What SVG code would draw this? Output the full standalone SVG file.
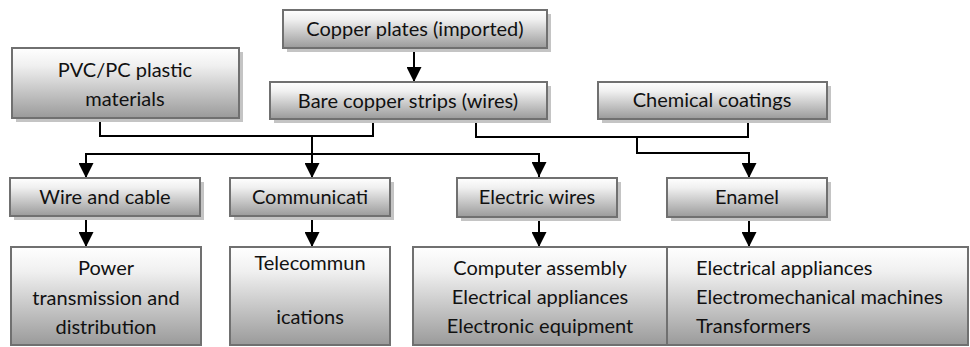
<svg xmlns="http://www.w3.org/2000/svg" width="970" height="347" viewBox="0 0 970 347">
<defs>
<linearGradient id="g" x1="0" y1="0" x2="0" y2="1">
<stop offset="0" stop-color="#ffffff"/>
<stop offset="0.25" stop-color="#f0f0f0"/>
<stop offset="1" stop-color="#9a9a9a"/>
</linearGradient>
<marker id="ah" viewBox="0 0 15 15" refX="15" refY="7.5" markerWidth="15" markerHeight="15" markerUnits="userSpaceOnUse" orient="auto">
<path d="M0,0 L15,7.5 L0,15 Z" fill="#000"/>
</marker>
</defs>
<style>
.box{fill:url(#g);stroke:#707070;stroke-width:2}
.sh{fill:#c4c4c4}
text{font-family:Lato,"Liberation Sans",sans-serif;font-size:20px;fill:#111}
.c{text-anchor:middle}
.ln{fill:none;stroke:#000;stroke-width:2}
.ar{fill:none;stroke:#000;stroke-width:2;marker-end:url(#ah)}
</style>
<rect width="970" height="347" fill="#fff"/>

<g id="connectors">
<polyline class="ln" points="100,118 100,136 373,136 373,119"/>
<line class="ar" x1="312" y1="136" x2="312" y2="178"/>
<polyline class="ar" points="86,178 86,154 539,154 539,177"/>
<path class="ar" d="M86,154 L86,178"/>
<line class="ar" x1="414" y1="48" x2="414" y2="82"/>
<polyline class="ln" points="476,119 476,137 748,137 748,119"/>
<polyline class="ar" points="637,137 637,153 749,153 749,178"/>
<line class="ar" x1="86" y1="216" x2="86" y2="247"/>
<line class="ar" x1="312" y1="216" x2="312" y2="247"/>
<line class="ar" x1="539" y1="217" x2="539" y2="247"/>
<line class="ar" x1="749" y1="217" x2="749" y2="247"/>
</g>

<g id="n-copper-plates">
<rect class="sh" x="287" y="14" width="264" height="38"/>
<rect class="box" x="283" y="10" width="264" height="38"/>
<text class="c" x="415" y="36">Copper plates (imported)</text>
</g>
<g id="n-pvc">
<rect class="sh" x="16" y="52" width="227" height="70"/>
<rect class="box" x="12" y="48" width="227" height="70"/>
<text class="c" x="125" y="77">PVC/PC plastic</text>
<text class="c" x="125" y="106">materials</text>
</g>
<g id="n-bare-copper">
<rect class="sh" x="274" y="86" width="277" height="37"/>
<rect class="box" x="270" y="82" width="277" height="37"/>
<text class="c" x="408" y="108">Bare copper strips (wires)</text>
</g>
<g id="n-chemical">
<rect class="sh" x="602" y="86" width="229" height="37"/>
<rect class="box" x="598" y="82" width="229" height="37"/>
<text class="c" x="712" y="107">Chemical coatings</text>
</g>
<g id="n-wire-cable">
<rect class="sh" x="14" y="182" width="190" height="38"/>
<rect class="box" x="10" y="178" width="190" height="38"/>
<text class="c" x="105" y="204">Wire and cable</text>
</g>
<g id="n-communicati">
<rect class="sh" x="234" y="182" width="160" height="38"/>
<rect class="box" x="230" y="178" width="160" height="38"/>
<text class="c" x="310" y="204">Communicati</text>
</g>
<g id="n-electric-wires">
<rect class="sh" x="461" y="182" width="160" height="39"/>
<rect class="box" x="457" y="178" width="160" height="39"/>
<text class="c" x="537" y="204">Electric wires</text>
</g>
<g id="n-enamel">
<rect class="sh" x="671" y="182" width="160" height="39"/>
<rect class="box" x="667" y="178" width="160" height="39"/>
<text class="c" x="747" y="204">Enamel</text>
</g>
<g id="n-power">
<rect class="box" x="11" y="247" width="190" height="98"/>
<text class="c" x="106" y="275">Power</text>
<text class="c" x="106" y="305">transmission and</text>
<text class="c" x="106" y="334">distribution</text>
</g>
<g id="n-telecom">
<rect class="box" x="230" y="247" width="160" height="98"/>
<text class="c" x="310" y="270">Telecommun</text>
<text class="c" x="310" y="324">ications</text>
</g>
<g id="n-computer">
<rect class="box" x="413" y="247" width="254" height="98"/>
<text class="c" x="540" y="275">Computer assembly</text>
<text class="c" x="540" y="304">Electrical appliances</text>
<text class="c" x="540" y="333">Electronic equipment</text>
</g>
<g id="n-enamel-uses">
<rect class="box" x="667" y="247" width="301" height="98"/>
<text x="696" y="275">Electrical appliances</text>
<text x="696" y="304">Electromechanical machines</text>
<text x="696" y="333">Transformers</text>
</g>
</svg>
